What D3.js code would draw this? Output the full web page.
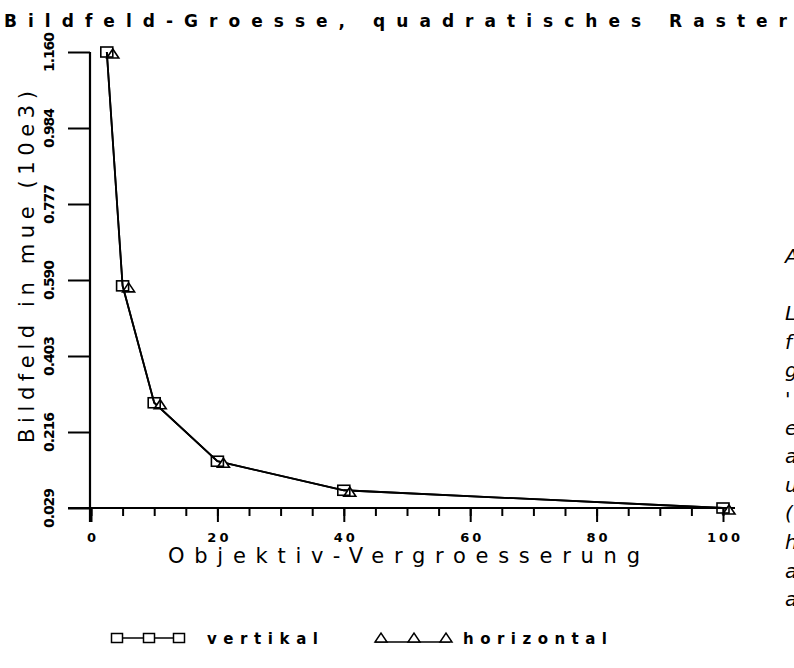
<!DOCTYPE html>
<html>
<head>
<meta charset="utf-8">
<script src="https://cdn.jsdelivr.net/npm/d3@7"></script>
<style>
  body { margin: 0; background: #fff; }
  svg { display: block; }
  text { font-family: "DejaVu Sans", sans-serif; fill: #000; }
</style>
</head>
<body>
<svg id="chart" width="794" height="668"></svg>
<script>
// data
var magnif = [2.5, 5, 10, 20, 40, 100];
var vertikal = [1.160, 0.580, 0.290, 0.145, 0.073, 0.029];
var horizontal = [1.160, 0.580, 0.290, 0.145, 0.073, 0.029];
var yTickLabels = ["0.029", "0.216", "0.403", "0.590", "0.777", "0.984", "1.160"];
var xMajor = [0, 20, 40, 60, 80, 100];
var sideLetters = ["A", "", "L", "f", "g", "'", "e", "a", "u", "(", "h", "a", "a"];

var svg = d3.select("#chart");

var x = d3.scaleLinear().domain([0, 100]).range([91, 723]);
var y = d3.scaleLinear().domain([0.029, 1.160]).range([508, 52]);

var yStep = (1.160 - 0.029) / (yTickLabels.length - 1);
var yTicks = yTickLabels.map(function(d, i) { return 0.029 + i * yStep; });

// title
svg.append("text")
  .attr("x", 4).attr("y", 27)
  .attr("font-size", 17)
  .attr("font-weight", "bold")
  .attr("textLength", 783).attr("lengthAdjust", "spacing")
  .text("Bildfeld-Groesse, quadratisches Raster");

// x axis: minor ticks
var gx = svg.append("g").attr("transform", "translate(0," + y(0.029) + ")");
gx.append("g")
  .call(d3.axisBottom(x).tickValues(d3.range(0, 101, 5)).tickSize(8).tickFormat(""))
  .call(function(g) { g.select(".domain").remove(); })
  .selectAll("line").attr("stroke-width", 2);

gx.append("g")
  .call(d3.axisBottom(x).tickValues(xMajor).tickSize(14).tickPadding(11))
  .call(function(g) { g.select(".domain").remove(); })
  .call(function(g) {
    g.selectAll("line").attr("stroke-width", 2);
    g.selectAll("text")
      .attr("font-family", "DejaVu Sans")
      .attr("font-size", 13)
      .attr("font-weight", "bold")
      .attr("letter-spacing", 3)
      .attr("dx", 1.5);
  });

// x axis line
svg.append("line")
  .attr("x1", x(0) - 23).attr("x2", x(100) + 12)
  .attr("y1", y(0.029)).attr("y2", y(0.029))
  .attr("stroke", "#000").attr("stroke-width", 2);

// y axis
var gy = svg.append("g").attr("transform", "translate(" + (x(0) - 1) + ",0)");
gy.call(d3.axisLeft(y).tickValues(yTicks).tickSize(22).tickFormat(""))
  .call(function(g) { g.select(".domain").remove(); })
  .selectAll("line").attr("stroke-width", 2);

svg.append("line")
  .attr("x1", x(0) - 1).attr("x2", x(0) - 1)
  .attr("y1", y(1.160)).attr("y2", y(0.029) + 14)
  .attr("stroke", "#000").attr("stroke-width", 2.2);

svg.append("g").selectAll("text")
  .data(yTicks)
  .join("text")
  .attr("transform", function(d) { return "translate(54," + y(d) + ") rotate(-90)"; })
  .attr("text-anchor", "middle")
  .attr("font-size", 14)
  .attr("font-weight", "bold")
  .attr("textLength", 40).attr("lengthAdjust", "spacing")
  .text(function(d, i) { return yTickLabels[i]; });

// axis titles
svg.append("text")
  .attr("transform", "translate(34,443) rotate(-90)")
  .attr("font-size", 21)
  .attr("textLength", 352).attr("lengthAdjust", "spacing")
  .text("Bildfeld in mue (10e3)");

svg.append("text")
  .attr("x", 168).attr("y", 563)
  .attr("font-size", 21)
  .attr("textLength", 472).attr("lengthAdjust", "spacing")
  .text("Objektiv-Vergroesserung");

// series lines
var line = d3.line()
  .x(function(d) { return x(d[0]); })
  .y(function(d) { return y(d[1]); });

var vData = magnif.map(function(m, i) { return [m, vertikal[i]]; });
var hData = magnif.map(function(m, i) { return [m, horizontal[i]]; });

svg.append("path").datum(hData)
  .attr("d", line).attr("fill", "none")
  .attr("stroke", "#000").attr("stroke-width", 1.8);
svg.append("path").datum(vData)
  .attr("d", line).attr("fill", "none")
  .attr("stroke", "#000").attr("stroke-width", 1.8);

// markers
var tri = "M-6,4L6,4L0,-5Z";
svg.append("g").selectAll("path")
  .data(hData)
  .join("path")
  .attr("d", tri)
  .attr("transform", function(d) { return "translate(" + (x(d[0]) + 6) + "," + (y(d[1]) + 2) + ")"; })
  .attr("fill", "#fff").attr("stroke", "#000").attr("stroke-width", 1.6);

svg.append("g").selectAll("rect")
  .data(vData)
  .join("rect")
  .attr("x", function(d) { return x(d[0]) - 6; })
  .attr("y", function(d) { return y(d[1]) - 5; })
  .attr("width", 12).attr("height", 10)
  .attr("fill", "none").attr("stroke", "#000").attr("stroke-width", 1.6);

// legend
var ly = 638;
var leg = svg.append("g");
leg.append("line").attr("x1", 112).attr("x2", 185).attr("y1", ly).attr("y2", ly)
  .attr("stroke", "#000").attr("stroke-width", 1.5);
leg.selectAll("rect").data([117, 149, 179]).join("rect")
  .attr("x", function(d) { return d - 5.5; }).attr("y", ly - 4.5)
  .attr("width", 11).attr("height", 9)
  .attr("fill", "#fff").attr("stroke", "#000").attr("stroke-width", 1.5);
leg.append("text").attr("x", 207).attr("y", ly + 6)
  .attr("font-size", 15).attr("font-weight", "bold")
  .attr("textLength", 111).attr("lengthAdjust", "spacing")
  .text("vertikal");

leg.append("line").attr("x1", 375).attr("x2", 450).attr("y1", ly + 4).attr("y2", ly + 4)
  .attr("stroke", "#000").attr("stroke-width", 1.5);
leg.selectAll("path").data([381, 414, 446]).join("path")
  .attr("d", tri)
  .attr("transform", function(d) { return "translate(" + d + "," + ly + ")"; })
  .attr("fill", "#fff").attr("stroke", "#000").attr("stroke-width", 1.5);
leg.append("text").attr("x", 463).attr("y", ly + 6)
  .attr("font-size", 15).attr("font-weight", "bold")
  .attr("textLength", 144).attr("lengthAdjust", "spacing")
  .text("horizontal");

// cut-off text at right edge
svg.append("g").selectAll("text")
  .data(sideLetters)
  .join("text")
  .attr("x", 785)
  .attr("y", function(d, i) { return 263 + i * 28.6; })
  .attr("font-size", 20)
  .attr("font-style", "italic")
  .attr("font-family", "Liberation Sans")
  .text(function(d) { return d; });
</script>
</body>
</html>
